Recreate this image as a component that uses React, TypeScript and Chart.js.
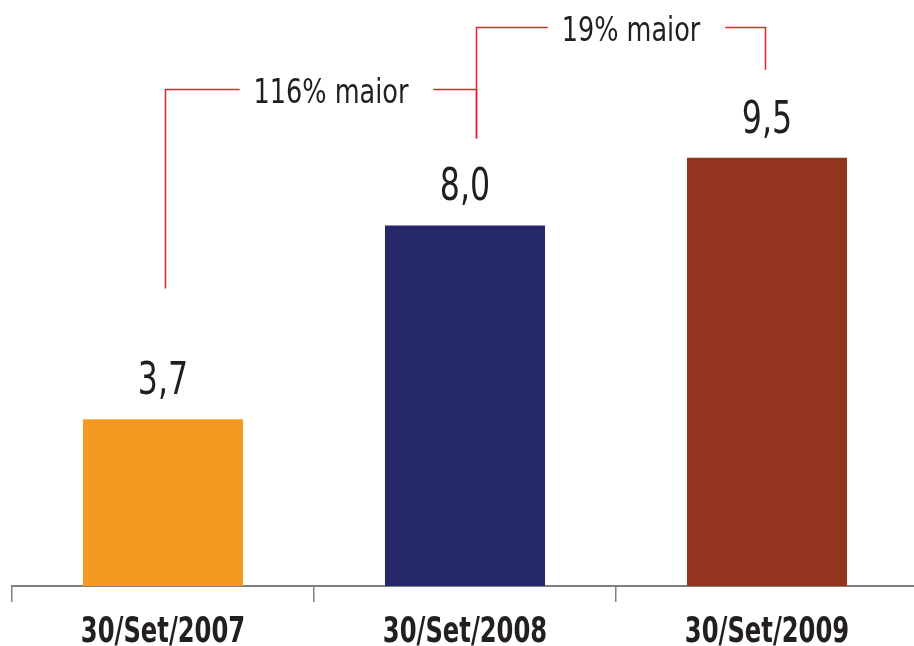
import React, { useEffect, useRef } from "react";
import { Chart, registerables } from "chart.js";

Chart.register(...registerables);

const categories = ["30/Set/2007", "30/Set/2008", "30/Set/2009"];
const values = [3.7, 8.0, 9.5];
const valueLabels = ["3,7", "8,0", "9,5"];
const barColors = ["#F39A20", "#27286C", "#93341F"];

const bracketLabels = ["116% maior", "19% maior"];
const bracketFrom = [0, 1];
const bracketTo = [1, 2];
const bracketLevel = [11.02, 12.4];
const bracketFromEnd = [6.6, 9.93];
const bracketToEnd = [9.93, 11.45];

const FONT = "'DejaVu Sans Condensed', 'Liberation Sans Narrow', sans-serif";

function drawSqueezed(ctx: any, text: string, cx: number, by: number, sx: number) {
  ctx.save();
  ctx.translate(cx, by);
  ctx.scale(sx, 1);
  ctx.fillText(text, 0, 0);
  ctx.restore();
}

const annotPlugin = {
  id: "annot",
  afterDatasetsDraw(chart: any) {
    const ctx = chart.ctx;
    const x = chart.scales.x;
    const y = chart.scales.y;
    const xShift = [2, 11, -2];
    ctx.save();
    ctx.fillStyle = "#231f20";
    ctx.textAlign = "center";
    ctx.textBaseline = "alphabetic";
    // category labels
    ctx.font = `bold 35px ${FONT}`;
    categories.forEach((c, i) => {
      drawSqueezed(ctx, c, x.getPixelForValue(i), 642, 0.77);
    });
    // value labels
    ctx.font = `44px ${FONT}`;
    values.forEach((v, i) => {
      const px = x.getPixelForValue(i);
      const py = y.getPixelForValue(v);
      drawSqueezed(ctx, valueLabels[i], px, py - 25, 0.8);
    });
    // brackets
    ctx.strokeStyle = "#E8202A";
    ctx.lineWidth = 1.5;
    ctx.font = `33px ${FONT}`;
    const sxB = 0.86;
    bracketLabels.forEach((lab, k) => {
      const a = bracketFrom[k];
      const b = bracketTo[k];
      const x1 = Math.round(x.getPixelForValue(a) + xShift[a]) + 0.5;
      const x2 = Math.round(x.getPixelForValue(b) + xShift[b]) + 0.5;
      const ly = Math.round(y.getPixelForValue(bracketLevel[k])) + 0.5;
      const y1 = y.getPixelForValue(bracketFromEnd[k]);
      const y2 = y.getPixelForValue(bracketToEnd[k]);
      const tw = ctx.measureText(lab).width * sxB;
      const tc = (x1 + x2) / 2 + 10;
      const tl = tc - tw / 2;
      const tr = tc + tw / 2;
      ctx.beginPath();
      ctx.moveTo(x1, y1);
      ctx.lineTo(x1, ly);
      ctx.lineTo(tl - 14, ly);
      ctx.moveTo(tr + 25, ly);
      ctx.lineTo(x2, ly);
      ctx.lineTo(x2, y2);
      ctx.stroke();
      ctx.fillStyle = "#231f20";
      drawSqueezed(ctx, lab, tc, ly + 13, sxB);
    });
    ctx.restore();
  },
};

export default function App() {
  const ref = useRef<HTMLCanvasElement>(null);
  useEffect(() => {
    if (!ref.current) return;
    const chart = new Chart(ref.current, {
      type: "bar",
      data: {
        labels: categories,
        datasets: [
          {
            data: values,
            backgroundColor: barColors,
            categoryPercentage: 1,
            barPercentage: 0.53,
          },
        ],
      },
      options: {
        responsive: false,
        animation: false,
        devicePixelRatio: 1,
        layout: { padding: { left: 12, right: 0, top: 0, bottom: 0 } },
        plugins: { legend: { display: false }, tooltip: { enabled: false } },
        scales: {
          x: {
            afterFit: (s: any) => {
              s.height = 60;
            },
            border: { display: true, color: "#808080", width: 2 },
            grid: {
              display: true,
              drawOnChartArea: false,
              drawTicks: true,
              tickLength: 16,
              color: "#808080",
              lineWidth: 1.5,
              offset: true,
            },
            ticks: {
              display: false,
            },
          },
          y: {
            display: false,
            min: 0,
            max: 13,
          },
        },
      },
      plugins: [annotPlugin],
    });
    return () => chart.destroy();
  }, []);
  return (
    <div
      style={{
        position: "fixed",
        left: 0,
        top: 0,
        width: 914,
        height: 646,
        overflow: "hidden",
        background: "#fff",
      }}
    >
      <canvas ref={ref} width={918} height={646} style={{ display: "block", width: 918, height: 646 }} />
    </div>
  );
}
